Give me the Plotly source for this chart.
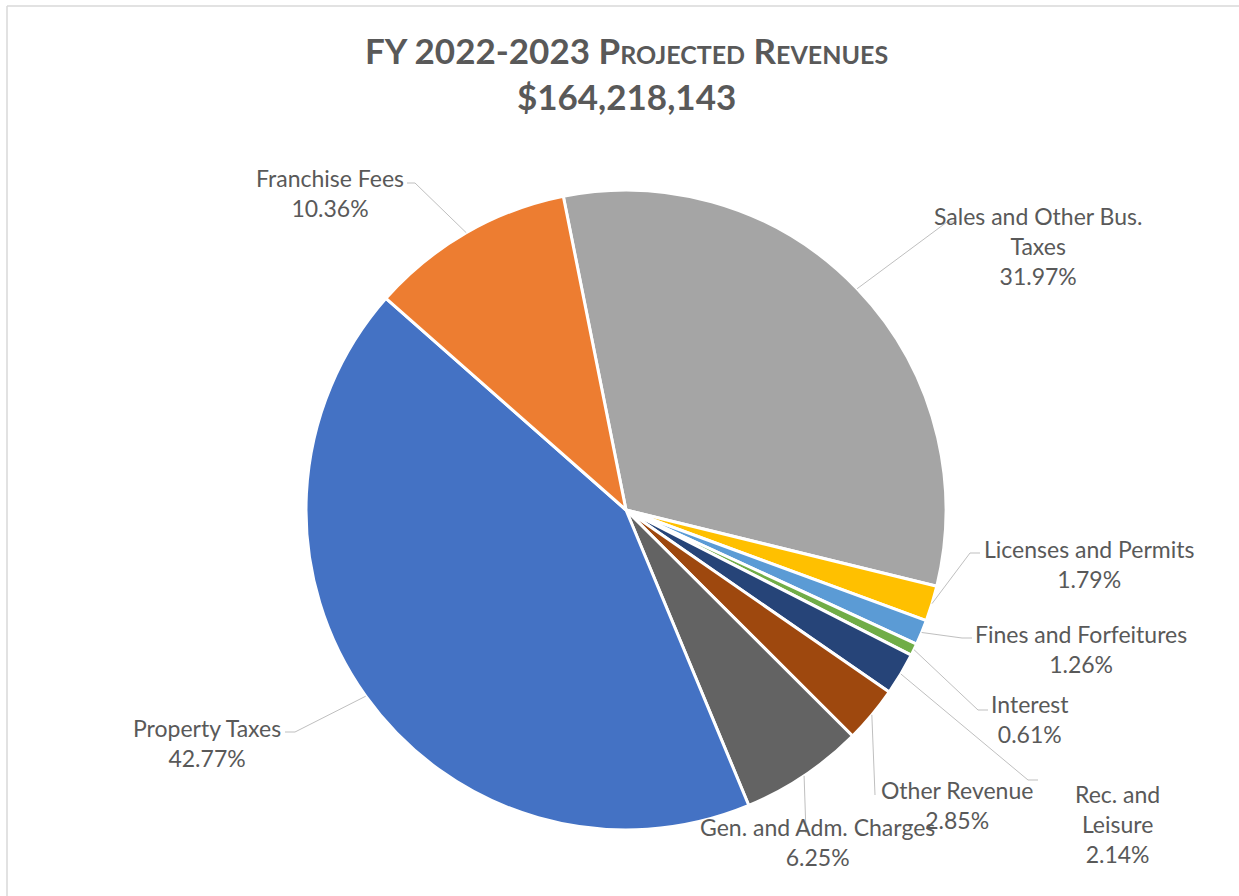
import math
import plotly.graph_objects as go

# Revenue categories in drawing order (clockwise from the top)
categories = [
    "Sales and Other Bus.<br>Taxes",
    "Licenses and Permits",
    "Fines and Forfeitures",
    "Interest",
    "Rec. and<br>Leisure",
    "Other Revenue",
    "Gen. and Adm. Charges",
    "Property Taxes",
    "Franchise Fees",
]
shares = [31.97, 1.79, 1.26, 0.61, 2.14, 2.85, 6.25, 42.77, 10.36]
colors = ["#A5A5A5", "#FFC000", "#5B9BD5", "#70AD47", "#264478",
          "#9E480E", "#636363", "#4472C4", "#ED7D31"]
total_label = "$164,218,143"

W, H = 1239, 896
CX, CY, R = 626, 510, 320          # pie centre and radius (px)
ROTATION = -11.3                    # start angle, degrees clockwise from 12 o'clock

# Label placement (px): label centre, leader elbow, leader end
label_layout = [
    dict(c=(1038, 246), elbow=(947, 222), end=(957, 222)),
    dict(c=(1089, 564), elbow=(970, 553), end=(980, 553)),
    dict(c=(1081, 649), elbow=(962, 638), end=(972, 638)),
    dict(c=(1030, 719), elbow=(978, 710), end=(988, 710)),
    dict(c=(1117, 824), elbow=(1028, 780), end=(1038, 780)),
    dict(c=(957, 805), elbow=(875, 795), end=(875, 795)),
    dict(c=(817, 842), elbow=(806, 833), end=(806, 833)),
    dict(c=(207, 743), elbow=(295, 732), end=(285, 732)),
    dict(c=(330, 193), elbow=(415, 183), end=(407, 183)),
]

FONT = "Lato"
TEXT_COLOR = "#595959"
LEADER_COLOR = "#BFBFBF"


def fx(x):
    return x / W


def fy(y):
    return 1 - y / H


fig = go.Figure(go.Pie(
    labels=[c.replace("<br>", " ") for c in categories],
    values=shares,
    sort=False,
    direction="clockwise",
    rotation=ROTATION,
    marker=dict(colors=colors, line=dict(color="white", width=3)),
    textinfo="none",
    hoverinfo="label+percent",
    showlegend=False,
    domain=dict(x=[fx(CX - R), fx(CX + R)], y=[fy(CY + R), fy(CY - R)]),
))

shapes = []
annotations = []
total = sum(shares)
cum = 0.0
for name, share, lay in zip(categories, shares, label_layout):
    mid = ROTATION + (cum + share / 2) / total * 360
    cum += share
    a = math.radians(mid)
    rx, ry = CX + R * math.sin(a), CY - R * math.cos(a)
    ex, ey = lay["elbow"]
    nx, ny = lay["end"]
    shapes.append(dict(
        type="path", xref="paper", yref="paper",
        path=f"M {fx(rx)} {fy(ry)} L {fx(ex)} {fy(ey)} L {fx(nx)} {fy(ny)}",
        line=dict(color=LEADER_COLOR, width=1),
    ))
    lx, ly = lay["c"]
    annotations.append(dict(
        x=fx(lx), y=fy(ly), xref="paper", yref="paper",
        xanchor="center", yanchor="middle", align="center",
        text=f"{name}<br>{share:.2f}%", showarrow=False,
        font=dict(family=FONT, size=23, color=TEXT_COLOR),
    ))

# Chart-area frame along the top and left edges
shapes.append(dict(type="line", xref="paper", yref="paper",
                   x0=fx(7), y0=fy(6), x1=1, y1=fy(6),
                   line=dict(color="#D9D9D9", width=1.5)))
shapes.append(dict(type="line", xref="paper", yref="paper",
                   x0=fx(7), y0=fy(6), x1=fx(7), y1=0,
                   line=dict(color="#D9D9D9", width=1.5)))

annotations.append(dict(
    x=fx(626), y=fy(73), xref="paper", yref="paper",
    xanchor="center", yanchor="middle", align="center", showarrow=False,
    text=f"FY 2022-2023 Projected Revenues<br>{total_label}",
    font=dict(family=FONT, size=35, color=TEXT_COLOR, weight="bold",
              variant="small-caps"),
))

fig.update_layout(
    width=W, height=H,
    margin=dict(l=0, r=0, t=0, b=0),
    paper_bgcolor="white",
    plot_bgcolor="white",
    shapes=shapes,
    annotations=annotations,
)

fig.write_html("out.html")
